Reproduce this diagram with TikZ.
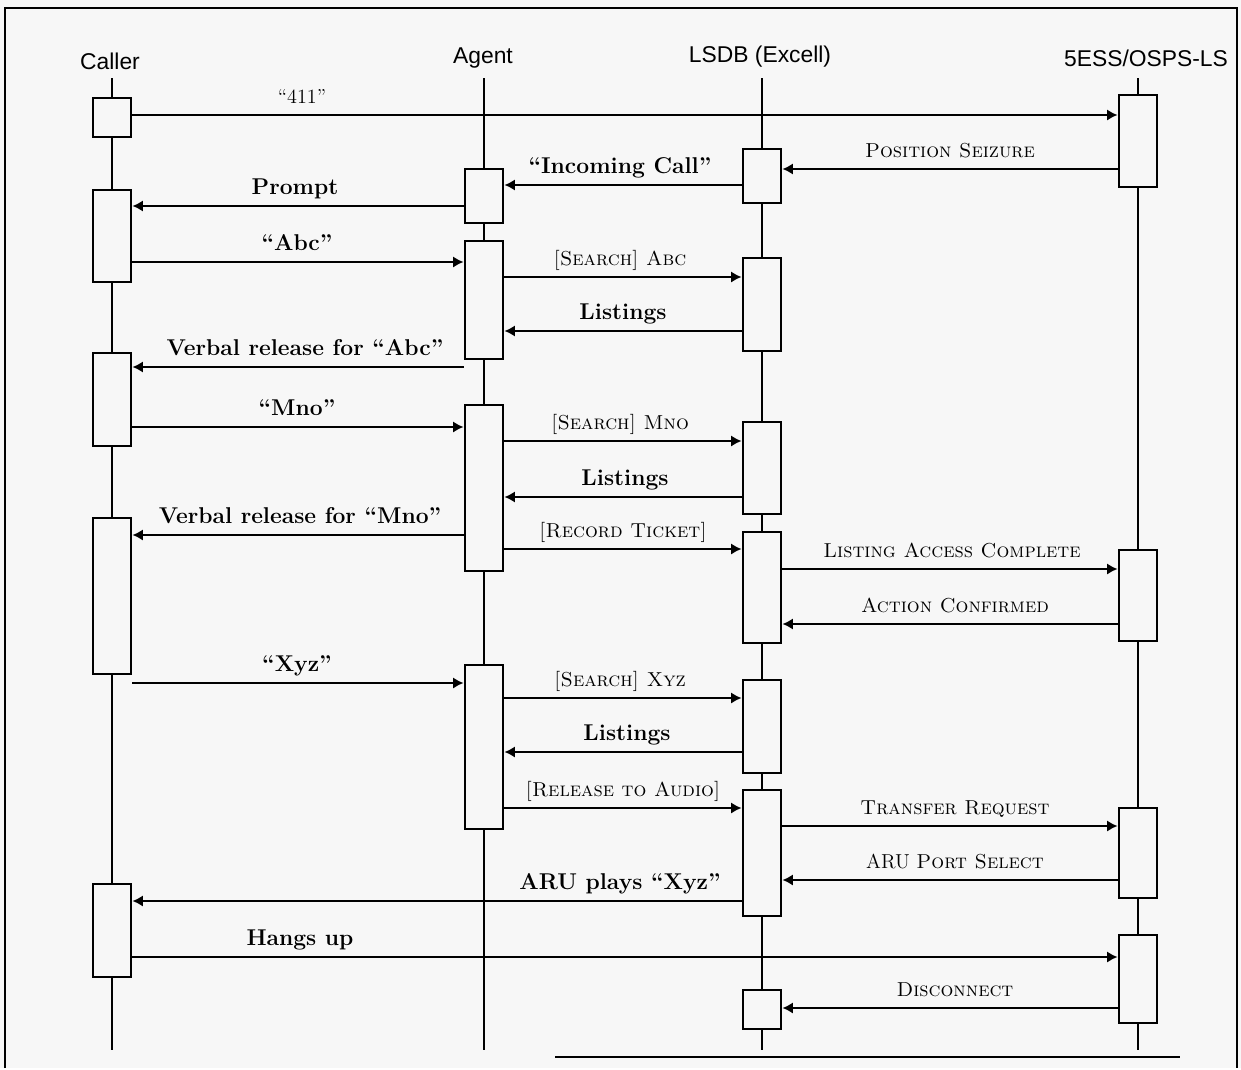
\documentclass[tikz,border=0pt]{standalone}
\usepackage{fontspec}
\newfontfamily\headfont{Liberation Sans}
\usetikzlibrary{arrows.meta}

\begin{document}
\begin{tikzpicture}[x=0.02cm, y=-0.02cm,
    head/.style={inner sep=0pt, font=\headfont\fontsize{13}{15}\selectfont},
    lifeline/.style={line width=1.1pt},
    actbox/.style={draw, line width=1.6pt, fill=black!3, minimum width=0.76cm, inner sep=0pt},
    msg/.style={line width=1.6pt, -{Latex[length=6pt,width=6.5pt]}},
    msglbl/.style={anchor=base, inner sep=0pt, font=\fontsize{13}{15}\selectfont\bfseries},
    sclbl/.style={anchor=base, inner sep=0pt, font=\fontsize{11.5}{13}\selectfont}]

% paper and frame
\fill[black!3] (0,0) rectangle (1241,1068);
\draw[line width=1.4pt] (5,1068) -- (5,8) -- (1237,8) -- (1237,1068);
\draw[line width=1.1pt] (555,1057) -- (1180,1057);

% heads and lifelines
\foreach \n/\x/\hx/\hy/\txt in {caller/112/110/61/Caller, agent/484/483/58/Agent, lsdb/762/760/57/{LSDB (Excell)}, oss/1138/1146/58/{5ESS/OSPS-LS}} {
    \node[head] (\n) at (\hx,\hy) {\txt};
    \coordinate (\n top) at (\x,78);
    \coordinate (\n bot) at (\x,1050);
    \draw[lifeline] (\n top) -- (\n bot);
}

% activation boxes: name / x / top / bottom
\foreach \n/\x/\ya/\yb in {c1/112/98/137, c2/112/190/282, c3/112/353/446, c4/112/518/674, c5/112/884/977,
    a1/484/169/223, a2/484/241/359, a3/484/405/571, a4/484/665/829,
    l1/762/149/203, l2/762/258/351, l3/762/422/514, l4/762/532/643, l5/762/680/773, l6/762/790/916, l7/762/990/1029,
    o1/1138/95/187, o2/1138/550/641, o3/1138/808/898, o4/1138/935/1023}
    \node[actbox, minimum height={(\yb-\ya)*0.02cm}] (\n) at (\x,{(\ya+\yb)/2}) {};

% messages to the right
\foreach \s/\t/\y/\lx/\st/\txt [count=\i] in {
    c1/o1/115/302/sclbl/{``411''},
    c2/a2/262/297/msglbl/{``Abc''},
    a2/l2/277/620/sclbl/{\textsc{[Search] Abc}},
    c3/a3/427/297/msglbl/{``Mno''},
    a3/l3/441/620/sclbl/{\textsc{[Search] Mno}},
    a3/l4/549/623/sclbl/{\textsc{[Record Ticket]}},
    l4/o2/569/952/sclbl/{\textsc{Listing Access Complete}},
    c4/a4/683/297/msglbl/{``Xyz''},
    a4/l5/698/620/sclbl/{\textsc{[Search] Xyz}},
    a4/l6/808/623/sclbl/{\textsc{[Release to Audio]}},
    l6/o3/826/955/sclbl/{\textsc{Transfer Request}},
    c5/o4/957/300/msglbl/{Hangs up}} {
    \draw[msg] (\s.east |- 0,\y) -- (\t.west |- 0,\y);
    \node[\st] (r\i) at (\lx,\y-12) {\txt};
}

% messages to the left
\foreach \s/\t/\y/\lx/\st/\txt [count=\i] in {
    o1/l1/169/950/sclbl/{\textsc{Position Seizure}},
    l1/a1/185/620/msglbl/{``Incoming Call''},
    a1/c2/206/295/msglbl/{Prompt},
    l2/a2/331/623/msglbl/{Listings},
    a2/c3/367/305/msglbl/{Verbal release for ``Abc''},
    l3/a3/497/625/msglbl/{Listings},
    a3/c4/535/300/msglbl/{Verbal release for ``Mno''},
    o2/l4/624/955/sclbl/{\textsc{Action Confirmed}},
    l5/a4/752/627/msglbl/{Listings},
    o3/l6/880/955/sclbl/{ARU \textsc{Port Select}},
    l6/c5/901/620/msglbl/{ARU plays ``Xyz''},
    o4/l7/1008/955/sclbl/{\textsc{Disconnect}}} {
    \draw[msg] (\s.west |- 0,\y) -- (\t.east |- 0,\y);
    \node[\st] (m\i) at (\lx,\y-12) {\txt};
}

\end{tikzpicture}
\end{document}
